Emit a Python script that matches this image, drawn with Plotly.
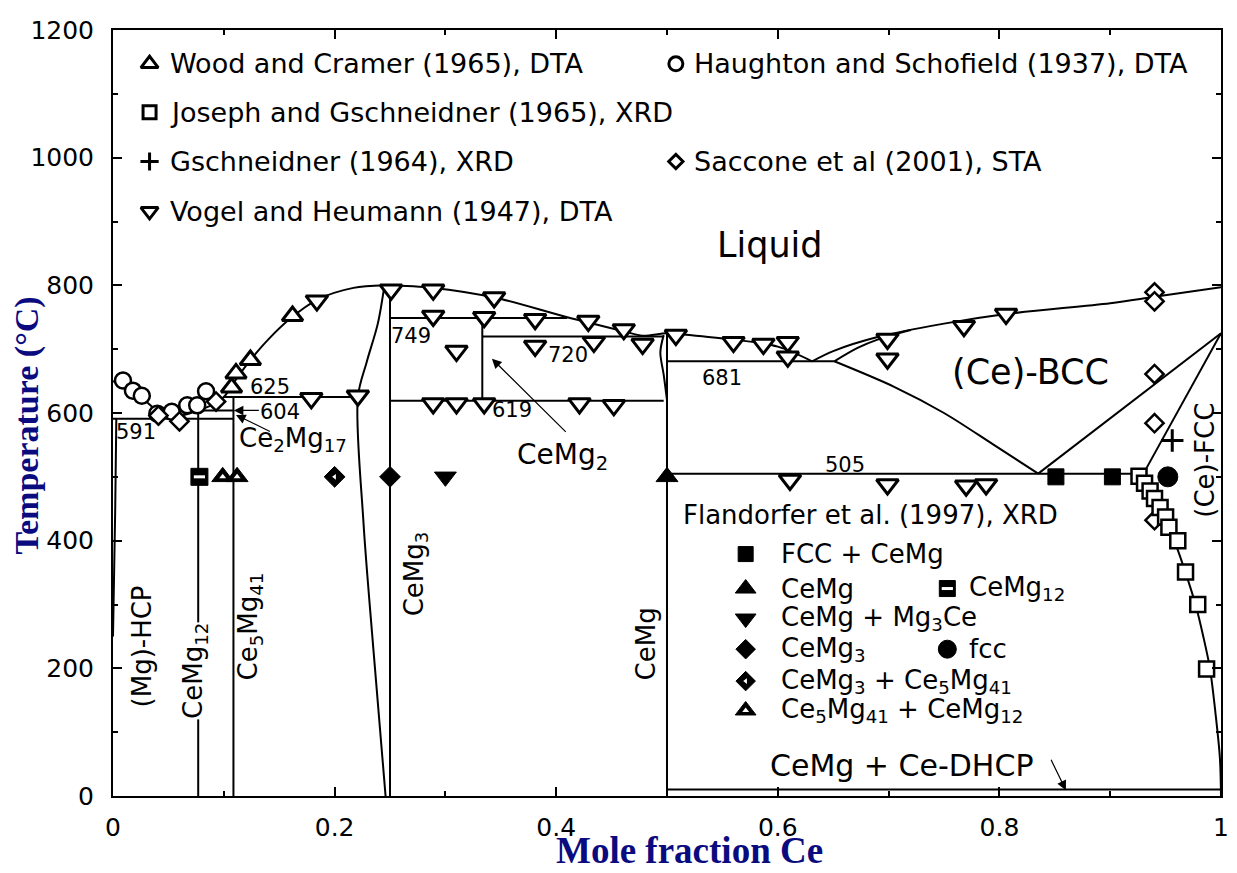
import plotly.graph_objects as go

# ---------------- experimental data (mole fraction Ce, temperature C) ----------------
vogel_x = [0.179, 0.221, 0.184, 0.251, 0.289, 0.344, 0.289, 0.335, 0.381, 0.429, 0.461, 0.434,
           0.478, 0.508, 0.381, 0.310, 0.289, 0.310, 0.335, 0.421, 0.452, 0.560, 0.587, 0.609,
           0.609, 0.699, 0.699, 0.768, 0.806, 0.611, 0.699, 0.770, 0.788]
vogel_t = [623, 627, 776, 793, 793, 781, 752, 750, 747, 744, 731, 711,
           708, 722, 705, 697, 615, 615, 615, 615, 612, 711, 708, 711,
           688, 716, 685, 736, 755, 495, 488, 486, 488]

wood_x = [0.107, 0.111, 0.124, 0.162]
wood_t = [640, 662, 683, 752]

haughton_x = [0.009, 0.018, 0.026, 0.040, 0.053, 0.067, 0.076, 0.084]
haughton_t = [651, 635, 627, 599, 602, 612, 612, 634]

saccone_x = [0.041, 0.060, 0.093, 0.940, 0.940, 0.940, 0.940, 0.940]
saccone_t = [596, 587, 618, 789, 775, 661, 584, 432]

joseph_x = [0.926, 0.931, 0.936, 0.940, 0.945, 0.950, 0.953, 0.961, 0.968, 0.979, 0.987]
joseph_t = [501, 490, 478, 466, 452, 437, 421, 400, 351, 300, 199]

gschneidner_x = [0.956]
gschneidner_t = [557]

# Flandorfer et al. (1997), XRD at 500 C
fl_fcc_cemg_x = [0.851, 0.902]
fl_fcc_cemg_t = [500, 500]
fl_cemg_x = [0.5]
fl_cemg_t = [500]
fl_cemg12_x = [0.078]
fl_cemg12_t = [500]
fl_cemg_mg3ce_x = [0.30]
fl_cemg_mg3ce_t = [500]
fl_cemg3_x = [0.25]
fl_cemg3_t = [500]
fl_fcc_x = [0.952]
fl_fcc_t = [500]
fl_cemg3_ce5_x = [0.20]
fl_cemg3_ce5_t = [500]
fl_ce5_cemg12_x = [0.099, 0.112]
fl_ce5_cemg12_t = [500, 500]

# ---------------- calculated phase boundaries ----------------
liq_mg_x = [0.0, 0.012, 0.025, 0.040, 0.050]
liq_mg_t = [650, 640, 625, 603, 591]
liq_ce5_x = [0.050, 0.070, 0.090, 0.100, 0.112, 0.125, 0.140, 0.160, 0.185, 0.217, 0.245]
liq_ce5_t = [591, 600, 613, 625, 655, 685, 715, 748, 778, 796, 800]
liq_mid_x = [0.245, 0.289, 0.344, 0.410, 0.461, 0.478, 0.500, 0.520, 0.560, 0.600, 0.631]
liq_mid_t = [800, 796, 781, 750, 728, 721, 725, 722, 715, 704, 681]
liq_bcc_x = [0.631, 0.650, 0.690, 0.750, 0.806, 0.900, 0.940, 1.000]
liq_bcc_t = [681, 697, 719, 740, 755, 772, 782, 797]
sol_bcc_x = [0.651, 0.672, 0.690, 0.720]
sol_bcc_t = [681, 702, 715, 730]
bcc_low_x = [0.651, 0.705, 0.750, 0.795, 0.835]
bcc_low_t = [681, 641, 600, 550, 505]
bcc_fcc_x = [0.835, 1.0]
bcc_fcc_t = [505, 725]
fcc_up_x = [0.930, 1.0]
fcc_up_t = [505, 725]
fcc_solvus_x = [0.930, 0.935, 0.945, 0.958, 0.968, 0.977, 0.984, 0.990, 0.995, 0.999, 1.0]
fcc_solvus_t = [505, 490, 460, 400, 350, 300, 250, 200, 130, 60, 0]
cemg3_left_x = [0.245, 0.239, 0.229, 0.221, 0.226, 0.235, 0.246]
cemg3_left_t = [800, 740, 680, 625, 430, 230, 0]
cemg_left_x = [0.500, 0.497, 0.494, 0.497]
cemg_left_t = [620, 660, 695, 722]
mg_solvus_x = [0.003, 0.002, 0.0]
mg_solvus_t = [591, 450, 250]

# invariant lines
iso_t = [591, 604, 625, 749, 720, 619, 681, 505, 10]
iso_x0 = [0.0, 0.0769, 0.100, 0.25, 0.3333, 0.25, 0.5, 0.5, 0.5]
iso_x1 = [0.1087, 0.1087, 0.221, 0.41, 0.497, 0.497, 0.651, 0.930, 1.0]

# stoichiometric compounds
comp_x = [0.0769, 0.1087, 0.25, 0.3333, 0.5]
comp_t0 = [0, 0, 0, 619, 0]
comp_t1 = [604, 625, 800, 749, 725]

# ---------------- figure ----------------
fig = go.Figure()
LW = 2


def add_line(x, t, shape="linear"):
    fig.add_trace(go.Scatter(x=x, y=t, mode="lines",
                             line=dict(color="black", width=LW, shape=shape, smoothing=0.9),
                             hoverinfo="skip", showlegend=False))


for xs, ts in [(liq_mg_x, liq_mg_t), (liq_ce5_x, liq_ce5_t), (liq_mid_x, liq_mid_t),
               (liq_bcc_x, liq_bcc_t), (sol_bcc_x, sol_bcc_t), (bcc_low_x, bcc_low_t),
               (fcc_solvus_x, fcc_solvus_t), (cemg3_left_x, cemg3_left_t),
               (cemg_left_x, cemg_left_t), (mg_solvus_x, mg_solvus_t)]:
    add_line(xs, ts, "spline")
add_line(bcc_fcc_x, bcc_fcc_t)
add_line(fcc_up_x, fcc_up_t)

for t, a, b in zip(iso_t, iso_x0, iso_x1):
    add_line([a, b], [t, t])
for c, a, b in zip(comp_x, comp_t0, comp_t1):
    add_line([c, c], [a, b])


def add_markers(x, t, symbol, size, fill="white", lw=2.5, lc="black"):
    fig.add_trace(go.Scatter(x=x, y=t, mode="markers", cliponaxis=False,
                             marker=dict(symbol=symbol, size=size, color=fill,
                                         line=dict(color=lc, width=lw)),
                             hoverinfo="skip", showlegend=False))


# experimental points
add_markers(haughton_x, haughton_t, "circle", 16, lw=2.5)
add_markers(saccone_x, saccone_t, "diamond", 14, lw=2.5)
add_markers(wood_x, wood_t, "triangle-up", 18, lw=3)
add_markers(vogel_x, vogel_t, "triangle-down", 19, lw=3)
add_markers(joseph_x, joseph_t, "square", 15, lw=2.5)
add_markers(gschneidner_x, gschneidner_t, "cross-thin", 16, lw=3)

# Flandorfer symbols
add_markers(fl_fcc_cemg_x, fl_fcc_cemg_t, "square", 16, fill="black", lw=1)
add_markers(fl_cemg_x, fl_cemg_t, "triangle-up", 19, fill="black", lw=1)
add_markers(fl_cemg12_x, fl_cemg12_t, "square", 17, fill="black", lw=1)
add_markers(fl_cemg12_x, fl_cemg12_t, "line-ew", 8, lw=3, lc="white")
add_markers(fl_cemg_mg3ce_x, fl_cemg_mg3ce_t, "triangle-down", 19, fill="black", lw=1)
add_markers(fl_cemg3_x, fl_cemg3_t, "diamond", 16, fill="black", lw=1)
add_markers(fl_fcc_x, fl_fcc_t, "circle", 20, fill="black", lw=1)
add_markers(fl_cemg3_ce5_x, fl_cemg3_ce5_t, "diamond", 16, fill="black", lw=1)
add_markers(fl_cemg3_ce5_x, fl_cemg3_ce5_t, "triangle-left", 5, fill="white", lw=0)
add_markers(fl_ce5_cemg12_x, fl_ce5_cemg12_t, "triangle-up", 19, fill="black", lw=1)
add_markers(fl_ce5_cemg12_x, fl_ce5_cemg12_t, "triangle-up", 6, fill="white", lw=0)

# ---------------- legends (drawn inside the plot) ----------------
SANS = "DejaVu Sans"
top_labels = ["Wood and Cramer (1965), DTA", "Joseph and Gschneidner (1965), XRD",
              "Gschneidner (1964), XRD", "Vogel and Heumann (1947), DTA"]
top_symbols = ["triangle-up", "square", "cross-thin", "triangle-down"]
top_sizes = [15, 13, 13, 15]
top_rows_t = [1147, 1071, 994, 916]
top_sym_x, top_txt_x = 0.033, 0.050

right_labels = ["Haughton and Schofield (1937), DTA", "Saccone et al (2001), STA"]
right_symbols = ["circle", "diamond"]
right_sizes = [14, 11]
right_rows_t = [1147, 994]
right_sym_x, right_txt_x = 0.508, 0.523

annotations = []
for lab, sym, sz, t in zip(top_labels, top_symbols, top_sizes, top_rows_t):
    add_markers([top_sym_x], [t], sym, sz, lw=3)
    annotations.append(dict(x=top_txt_x, y=t, text=lab, xanchor="left", yanchor="middle",
                            font=dict(size=27, family=SANS, color="black")))
for lab, sym, sz, t in zip(right_labels, right_symbols, right_sizes, right_rows_t):
    add_markers([right_sym_x], [t], sym, sz, lw=3)
    annotations.append(dict(x=right_txt_x, y=t, text=lab, xanchor="left", yanchor="middle",
                            font=dict(size=27, family=SANS, color="black")))

# Flandorfer legend
fl_labels = ["FCC + CeMg", "CeMg", "CeMg + Mg<sub>3</sub>Ce", "CeMg<sub>3</sub>",
             "CeMg<sub>3</sub> + Ce<sub>5</sub>Mg<sub>41</sub>",
             "Ce<sub>5</sub>Mg<sub>41</sub> + CeMg<sub>12</sub>"]
fl_rows_t = [379, 325, 278, 230, 180, 134]
fl_sym_x, fl_txt_x = 0.571, 0.601
fl2_labels = ["CeMg<sub>12</sub>", "fcc"]
fl2_rows_t = [325, 230]
fl2_sym_x, fl2_txt_x = 0.753, 0.771

add_markers([fl_sym_x], [fl_rows_t[0]], "square", 15, fill="black", lw=1)
add_markers([fl_sym_x], [fl_rows_t[1]], "triangle-up", 18, fill="black", lw=1)
add_markers([fl_sym_x], [fl_rows_t[2]], "triangle-down", 18, fill="black", lw=1)
add_markers([fl_sym_x], [fl_rows_t[3]], "diamond", 15, fill="black", lw=1)
add_markers([fl_sym_x], [fl_rows_t[4]], "diamond", 15, fill="black", lw=1)
add_markers([fl_sym_x], [fl_rows_t[4]], "triangle-left", 5, fill="white", lw=0)
add_markers([fl_sym_x], [fl_rows_t[5]], "triangle-up", 18, fill="black", lw=1)
add_markers([fl_sym_x], [fl_rows_t[5]], "triangle-up", 6, fill="white", lw=0)
add_markers([fl2_sym_x], [fl2_rows_t[0]], "square", 16, fill="black", lw=1)
add_markers([fl2_sym_x], [fl2_rows_t[0]], "line-ew", 8, lw=3, lc="white")
add_markers([fl2_sym_x], [fl2_rows_t[1]], "circle", 18, fill="black", lw=1)

annotations.append(dict(x=0.513, y=441, text="Flandorfer et al. (1997), XRD", xanchor="left",
                        yanchor="middle", font=dict(size=26, family=SANS, color="black")))
for lab, t in zip(fl_labels, fl_rows_t):
    annotations.append(dict(x=fl_txt_x, y=t, text=lab, xanchor="left", yanchor="middle",
                            font=dict(size=26, family=SANS, color="black")))
for lab, t in zip(fl2_labels, fl2_rows_t):
    annotations.append(dict(x=fl2_txt_x, y=t, text=lab, xanchor="left", yanchor="middle",
                            font=dict(size=26, family=SANS, color="black")))

# ---------------- phase labels ----------------
num_labels = ["749", "720", "619", "681", "505", "625", "604", "591"]
num_x = [0.269, 0.411, 0.360, 0.550, 0.661, 0.142, 0.151, 0.021]
num_t = [720, 691, 604, 655, 519, 641, 601, 570]
for lab, x, t in zip(num_labels, num_x, num_t):
    annotations.append(dict(x=x, y=t, text=lab, xanchor="center", yanchor="middle",
                            font=dict(size=21, family=SANS, color="black")))

big_labels = ["Liquid", "(Ce)-BCC"]
big_x = [0.593, 0.828]
big_t = [863, 665]
for lab, x, t in zip(big_labels, big_x, big_t):
    annotations.append(dict(x=x, y=t, text=lab, xanchor="center", yanchor="middle",
                            font=dict(size=35, family=SANS, color="black")))

annotations.append(dict(x=0.112, y=558, text="Ce<sub>2</sub>Mg<sub>17</sub>", xanchor="left",
                        yanchor="middle", font=dict(size=26, family=SANS, color="black")))
annotations.append(dict(x=0.406, y=532, text="CeMg<sub>2</sub>", xanchor="center",
                        yanchor="middle", font=dict(size=28, family=SANS, color="black")))
annotations.append(dict(x=0.7115, y=48, text="CeMg + Ce-DHCP", xanchor="center",
                        yanchor="middle", font=dict(size=30, family=SANS, color="black")))

rot_labels = ["(Mg)-HCP", "CeMg<sub>12</sub>", "Ce<sub>5</sub>Mg<sub>41</sub>",
              "CeMg<sub>3</sub>", "CeMg", "(Ce)-FCC"]
rot_x = [0.026, 0.074, 0.123, 0.273, 0.481, 0.986]
rot_t = [234, 196, 266, 348, 239, 526]
rot_bg = ["rgba(0,0,0,0)", "white", "rgba(0,0,0,0)", "rgba(0,0,0,0)", "rgba(0,0,0,0)",
          "rgba(0,0,0,0)"]
for lab, x, t, bg in zip(rot_labels, rot_x, rot_t, rot_bg):
    annotations.append(dict(x=x, y=t, text=lab, textangle=-90, xanchor="center",
                            yanchor="middle", bgcolor=bg, borderpad=0,
                            font=dict(size=26, family=SANS, color="black")))

# arrows (tip -> tail in data coordinates)
arrow_tip_x = [0.342, 0.860, 0.109, 0.111]
arrow_tip_t = [685, 9, 604, 597]
arrow_tail_x = [0.410, 0.846, 0.133, 0.143]
arrow_tail_t = [568, 59, 604, 570]
for x, t, ax, at in zip(arrow_tip_x, arrow_tip_t, arrow_tail_x, arrow_tail_t):
    annotations.append(dict(x=x, y=t, ax=ax, ay=at, axref="x", ayref="y", text="",
                            showarrow=True, arrowhead=2, arrowsize=1.6, arrowwidth=1.2,
                            arrowcolor="black", standoff=0))

# axis titles
TITLE_COLOR = "#0b0b80"
annotations.append(dict(xref="paper", yref="paper", x=0.5206, y=-0.0705,
                        text="<b>Mole fraction Ce</b>", showarrow=False,
                        xanchor="center", yanchor="middle",
                        font=dict(size=37, family="Liberation Serif, Times New Roman, serif",
                                  color=TITLE_COLOR)))
annotations.append(dict(xref="paper", yref="paper", x=-0.0775, y=0.4838,
                        text="<b>Temperature (°C)</b>", showarrow=False, textangle=-90,
                        xanchor="center", yanchor="middle",
                        font=dict(size=34, family="Liberation Serif, Times New Roman, serif",
                                  color=TITLE_COLOR)))

for a in annotations:
    a.setdefault("showarrow", False)

# the page body adds an 8px offset, so the figure is 8px smaller than the window
fig.update_layout(
    width=1229, height=865, autosize=False,
    margin=dict(l=105, r=8, t=15, b=77),
    paper_bgcolor="white", plot_bgcolor="white",
    showlegend=False,
    annotations=annotations,
    font=dict(family=SANS, color="black"),
    xaxis=dict(range=[0, 1], tick0=0, dtick=0.2, ticks="inside", ticklen=9, tickwidth=2,
               tickcolor="black",
               minor=dict(dtick=0.1, ticks="inside", ticklen=5, tickwidth=1.5, tickcolor="black"),
               showline=True, linecolor="black", linewidth=2, mirror="ticks",
               showgrid=False, zeroline=False, tickfont=dict(size=25, family=SANS),
               ticklabelstandoff=8),
    yaxis=dict(range=[0, 1200], tick0=0, dtick=200, ticks="inside", ticklen=9, tickwidth=2,
               tickcolor="black",
               minor=dict(dtick=100, ticks="inside", ticklen=5, tickwidth=1.5, tickcolor="black"),
               showline=True, linecolor="black", linewidth=2, mirror="ticks",
               showgrid=False, zeroline=False, tickfont=dict(size=25, family=SANS),
               ticklabelstandoff=12),
)

fig.write_html("out.html")
